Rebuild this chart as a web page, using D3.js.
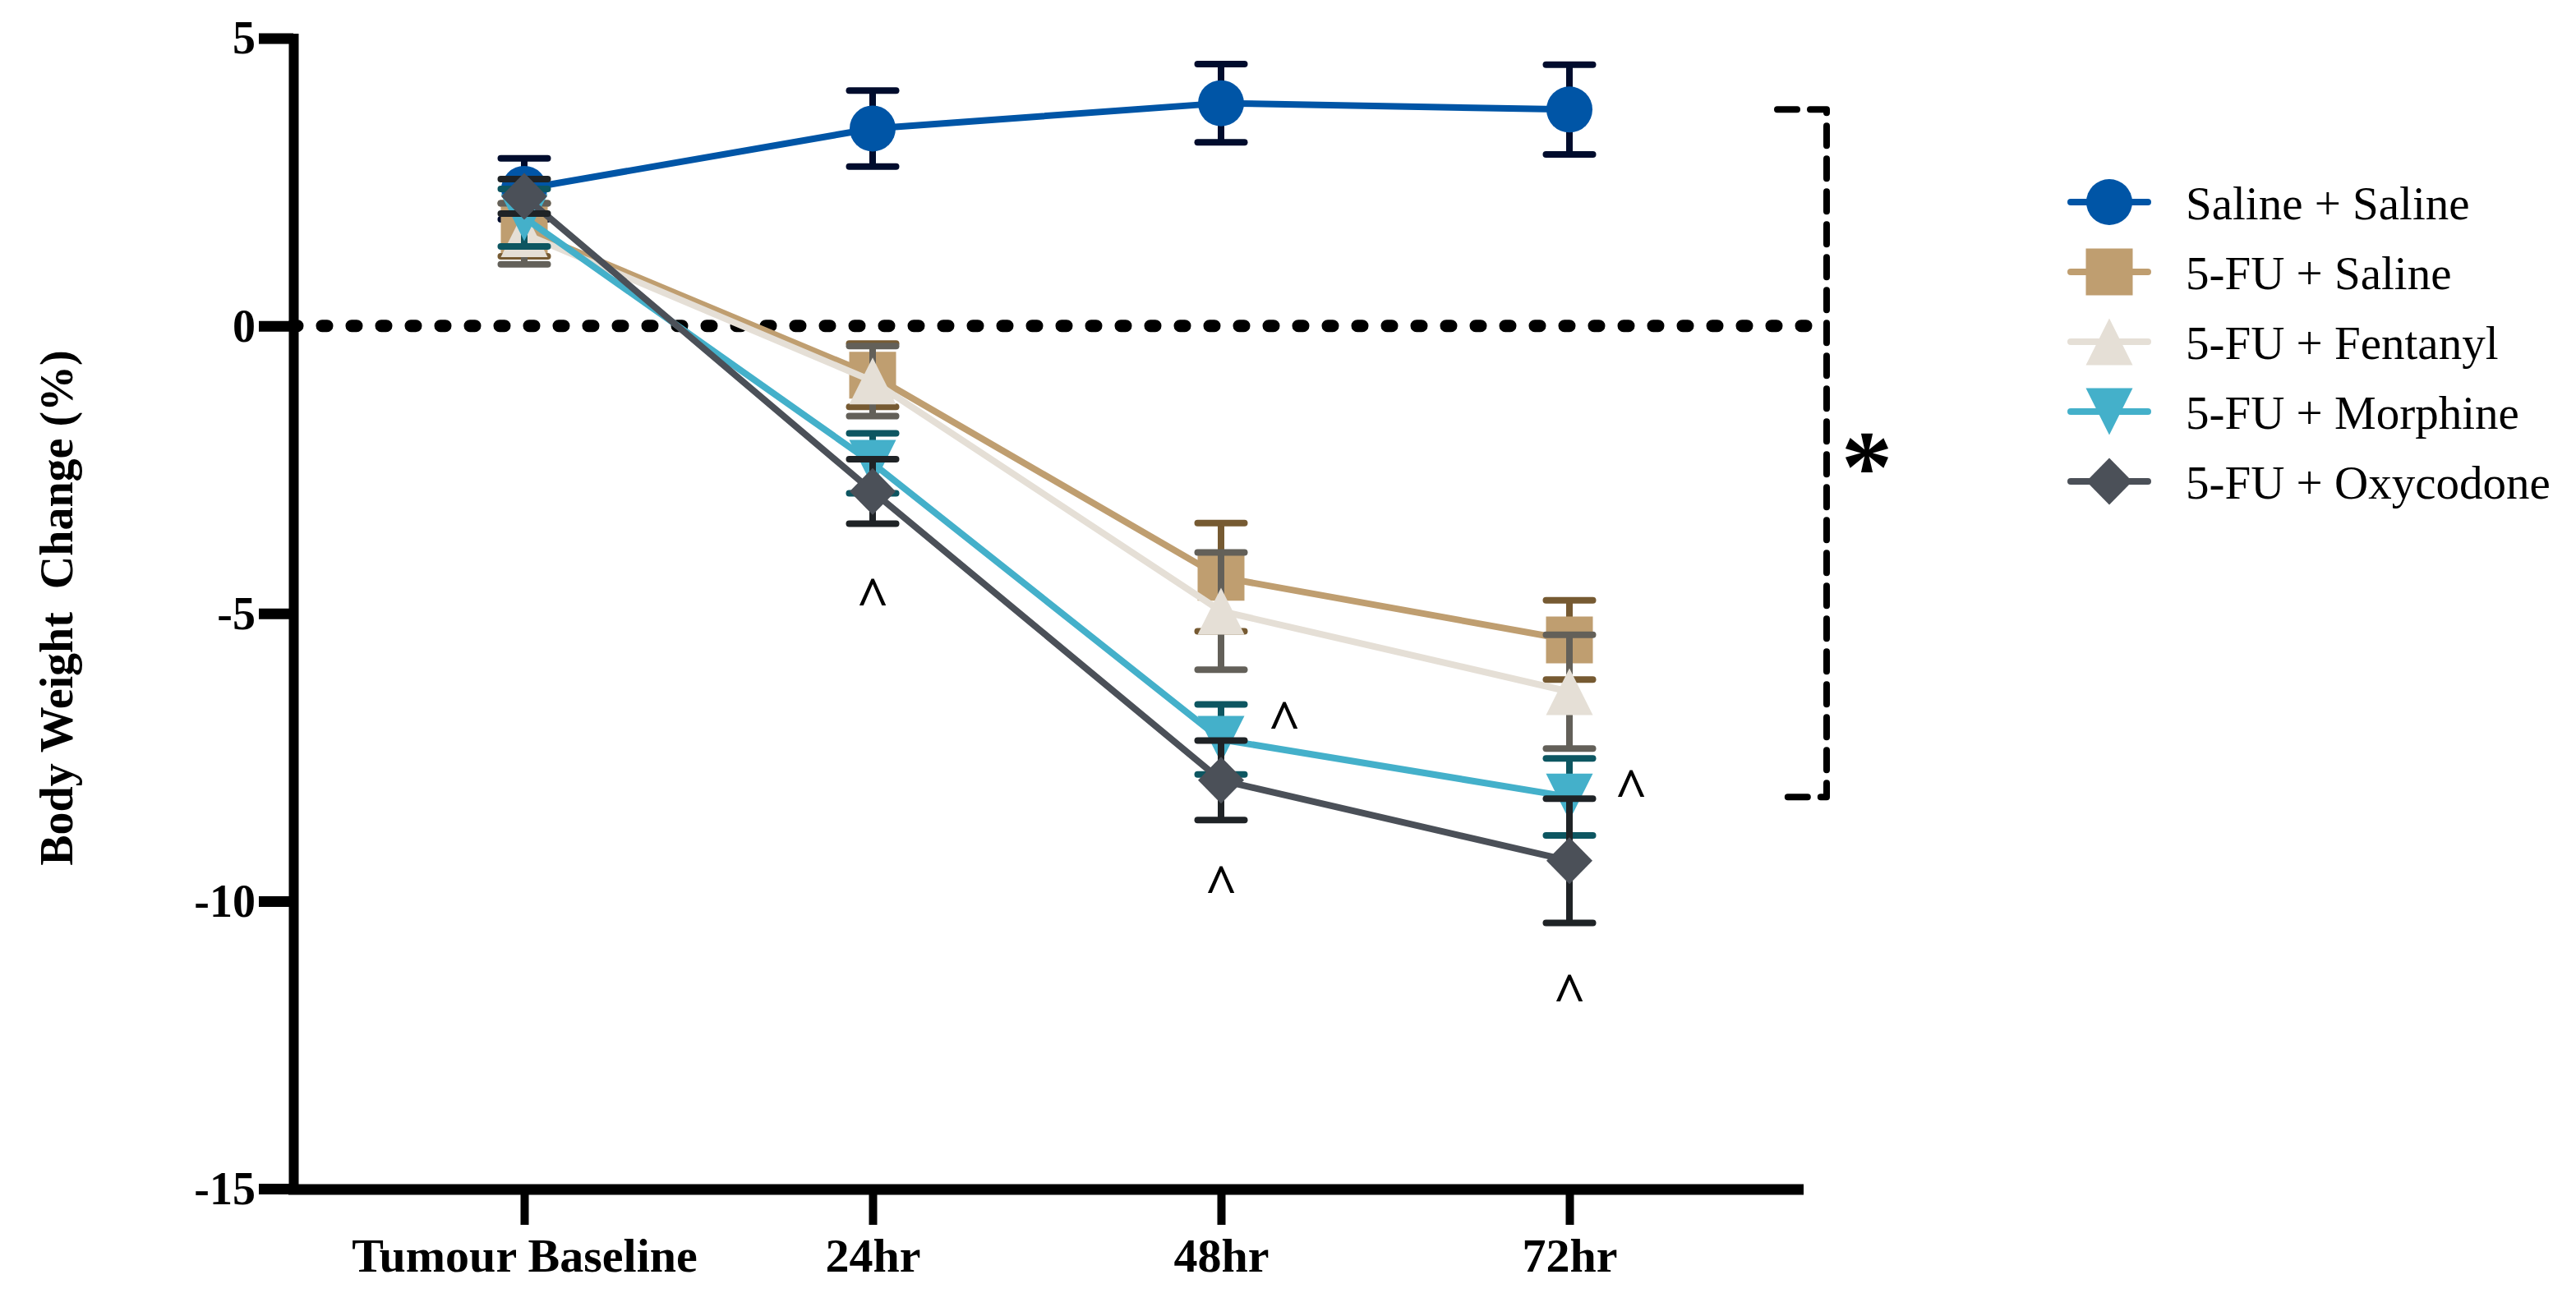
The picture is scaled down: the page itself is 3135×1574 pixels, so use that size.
<!DOCTYPE html>
<html>
<head>
<meta charset="utf-8">
<script src="https://cdn.jsdelivr.net/npm/d3@7"></script>
<style>
  body { margin: 0; background: #fff; }
  text { font-family: "Liberation Serif", serif; }
</style>
</head>
<body>
<svg id="chart"></svg>
<script>
// data (mean and SEM, % body weight change)
var categories = ["Tumour Baseline", "24hr", "48hr", "72hr"];
var seriesNames = ["Saline + Saline", "5-FU + Saline", "5-FU + Fentanyl", "5-FU + Morphine", "5-FU + Oxycodone"];

var salineSalineMean = [2.38, 3.43, 3.87, 3.76];
var salineSalineSem  = [0.53, 0.66, 0.68, 0.78];
var fuSalineMean     = [1.67, -0.86, -4.37, -5.46];
var fuSalineSem      = [0.46, 0.55, 0.94, 0.69];
var fuFentanylMean   = [1.60, -0.96, -4.96, -6.36];
var fuFentanylSem    = [0.53, 0.61, 1.02, 0.99];
var fuMorphineMean   = [1.88, -2.39, -7.19, -8.19];
var fuMorphineSem    = [0.50, 0.52, 0.61, 0.67];
var fuOxycodoneMean  = [2.25, -2.88, -7.90, -9.30];
var fuOxycodoneSem   = [0.30, 0.56, 0.69, 1.08];

var yTicks = [5, 0, -5, -10, -15];

// "^" marks: [category, value, nudge right]
var caretMarks = [
    ["24hr", -4.50, 0],
    ["48hr", -6.65, 77],
    ["48hr", -9.50, 0],
    ["72hr", -7.83, 75],
    ["72hr", -11.38, 0]
];

var means = [salineSalineMean, fuSalineMean, fuFentanylMean, fuMorphineMean, fuOxycodoneMean];
var sems = [salineSalineSem, fuSalineSem, fuFentanylSem, fuMorphineSem, fuOxycodoneSem];

// look of each group
var fills = ["#0055a6", "#bf9e70", "#e5dfd6", "#44b0ca", "#4b5058"];
var errColors = ["#000c2d", "#765a32", "#636059", "#0d5661", "#1f2326"];
var shapes = ["circle", "square", "triangle", "triangleDown", "diamond"];

var W = 3135, H = 1574;
var svg = d3.select("#chart").attr("width", W).attr("height", H);
svg.append("rect").attr("width", W).attr("height", H).attr("fill", "#fff");

var axisX = 357, axisY = 1448, axisEnd = 2195;

var x = d3.scalePoint().domain(categories).range([638, 1910]);
var y = d3.scaleLinear().domain([-15, 5]).range([1447, 46.5]);

function shapePath(kind) {
    var s = 28.5;
    if (kind == "circle") return d3.symbol(d3.symbolCircle, Math.PI * 28 * 28)();
    if (kind == "square") return "M" + -s + "," + -s + "H" + s + "V" + s + "H" + -s + "Z";
    if (kind == "triangle") return "M0," + -s + "L" + s + "," + s + "H" + -s + "Z";
    if (kind == "triangleDown") return "M" + -s + "," + -s + "H" + s + "L0," + s + "Z";
    return "M0," + -s + "L28," + 0 + "L0," + s + "L-28,0Z";
}

// zero reference line
svg.append("line")
    .attr("x1", axisX - 1).attr("x2", 2200)
    .attr("y1", y(0)).attr("y2", y(0))
    .attr("stroke", "#000").attr("stroke-width", 15)
    .attr("stroke-dasharray", "6,30").attr("stroke-linecap", "round");

// groups
var line = d3.line().x(function (d) { return x(d[0]); }).y(function (d) { return y(d[1]); });

means.forEach(function (m, i) {
    var g = svg.append("g");
    var pts = categories.map(function (c, j) { return [c, m[j], sems[i][j]]; });

    g.append("path").datum(pts)
        .attr("d", line)
        .attr("fill", "none").attr("stroke", fills[i]).attr("stroke-width", 8);

    var eb = g.selectAll(".eb").data(pts).enter().append("g")
        .attr("stroke", errColors[i]).attr("stroke-width", 8).attr("stroke-linecap", "round");
    eb.append("line")
        .attr("x1", function (d) { return x(d[0]); }).attr("x2", function (d) { return x(d[0]); })
        .attr("y1", function (d) { return y(d[1] + d[2]); }).attr("y2", function (d) { return y(d[1] - d[2]); })
        .attr("stroke-linecap", "butt");
    [1, -1].forEach(function (sgn) {
        eb.append("line")
            .attr("x1", function (d) { return x(d[0]) - 28.5; }).attr("x2", function (d) { return x(d[0]) + 28.5; })
            .attr("y1", function (d) { return y(d[1] + sgn * d[2]); }).attr("y2", function (d) { return y(d[1] + sgn * d[2]); });
    });

    g.selectAll(".mk").data(pts).enter().append("path")
        .attr("d", shapePath(shapes[i]))
        .attr("transform", function (d) { return "translate(" + x(d[0]) + "," + y(d[1]) + ")"; })
        .attr("fill", fills[i]);
});

// axes
var yAxis = d3.axisLeft(y).tickValues(yTicks).tickSize(42).tickSizeOuter(0).tickPadding(4)
    .tickFormat(function (d) { return String(d); });
var gy = svg.append("g").attr("transform", "translate(" + axisX + ",0)").call(yAxis);
gy.select(".domain").attr("stroke", "#000").attr("stroke-width", 12).attr("stroke-linecap", "square");
gy.selectAll(".tick line").attr("stroke", "#000").attr("stroke-width", 13);
gy.selectAll(".tick text")
    .attr("font-family", "Liberation Serif").attr("font-weight", "bold").attr("font-size", 56)
    .attr("fill", "#000").attr("dy", "0.33em");

var xAxis = d3.axisBottom(x).tickSize(43).tickSizeOuter(0).tickPadding(16);
var gx = svg.append("g").attr("transform", "translate(0," + axisY + ")").call(xAxis);
gx.select(".domain").remove();
gx.append("line").attr("x1", axisX - 6).attr("x2", axisEnd)
    .attr("stroke", "#000").attr("stroke-width", 13);
gx.selectAll(".tick line").attr("stroke", "#000").attr("stroke-width", 10);
gx.selectAll(".tick text")
    .attr("font-family", "Liberation Serif").attr("font-weight", "bold").attr("font-size", 58)
    .attr("fill", "#000");

svg.append("text")
    .attr("transform", "translate(88,740) rotate(-90)")
    .attr("text-anchor", "middle")
    .attr("font-weight", "bold").attr("font-size", 56)
    .style("white-space", "pre")
    .text("Body Weight  Change (%)");

// significance bracket from Saline+Saline to 5-FU+Morphine at 72hr
var yTop = y(salineSalineMean[3]), yBot = y(fuMorphineMean[3]);
svg.append("path")
    .attr("d", "M2163," + yTop + "H2223V" + yBot + "H2166")
    .attr("fill", "none").attr("stroke", "#000").attr("stroke-width", 8)
    .attr("stroke-dasharray", "24,16").attr("stroke-linecap", "round").attr("stroke-linejoin", "round");
svg.append("text")
    .attr("x", 2272).attr("y", (yTop + yBot) / 2 + 58)
    .attr("text-anchor", "middle")
    .attr("font-family", "Liberation Sans").attr("font-weight", "bold").attr("font-size", 125)
    .text("*");

svg.selectAll(".caret").data(caretMarks).enter().append("text")
    .attr("x", function (d) { return x(d[0]) + d[2]; })
    .attr("y", function (d) { return y(d[1]) + 38; })
    .attr("text-anchor", "middle")
    .attr("font-family", "Liberation Sans").attr("font-weight", "bold").attr("font-size", 70)
    .text("^");

// legend
var leg = svg.append("g");
seriesNames.forEach(function (name, i) {
    var ly = 246 + i * 85;
    leg.append("line").attr("x1", 2520).attr("x2", 2614).attr("y1", ly).attr("y2", ly)
        .attr("stroke", fills[i]).attr("stroke-width", 8).attr("stroke-linecap", "round");
    leg.append("path").attr("d", shapePath(shapes[i]))
        .attr("transform", "translate(2567," + ly + ")").attr("fill", fills[i]);
    leg.append("text").attr("x", 2660).attr("y", ly + 21)
        .attr("font-size", 57).attr("fill", "#000").text(name);
});
</script>
</body>
</html>
